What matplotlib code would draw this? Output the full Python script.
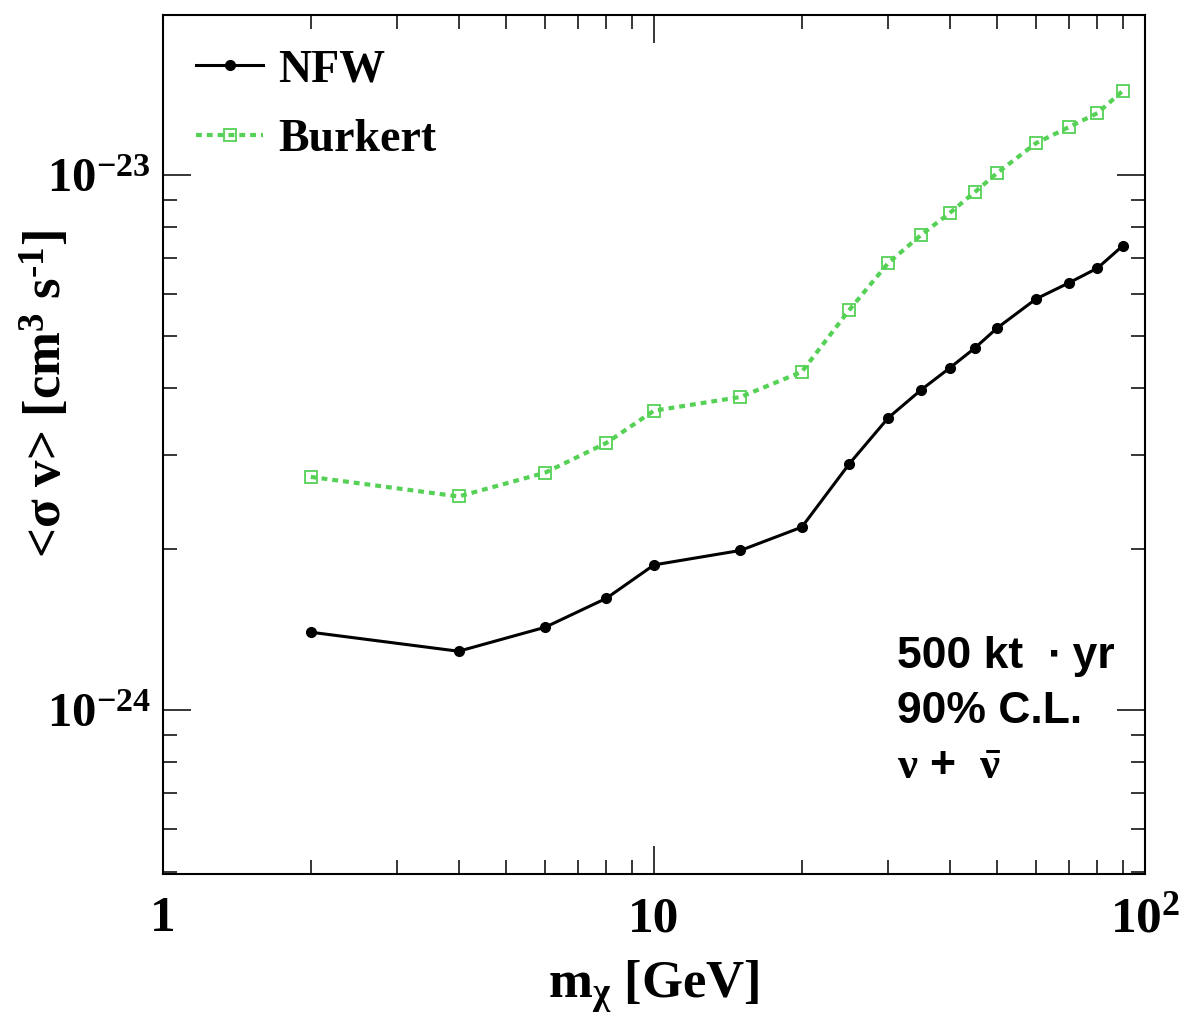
import matplotlib
matplotlib.use("Agg")
import matplotlib.pyplot as plt
from matplotlib.ticker import LogLocator, NullFormatter
import numpy as np

plt.rcParams['mathtext.fontset'] = 'custom'
plt.rcParams['mathtext.rm'] = 'Liberation Serif:bold'
plt.rcParams['mathtext.bf'] = 'Liberation Serif:bold'
plt.rcParams['mathtext.it'] = 'Liberation Serif:bold:italic'
plt.rcParams['font.family'] = ['Liberation Serif', 'DejaVu Serif']
plt.rcParams['font.weight'] = 'bold'

# dark matter mass [GeV]
mass = [2, 4, 6, 8, 10, 15, 20, 25, 30, 35, 40, 45, 50, 60, 70, 80, 90]

# 90% C.L. upper limits on <sigma v> [cm^3 s^-1]
nfw = [1.40e-24, 1.29e-24, 1.43e-24, 1.62e-24, 1.87e-24, 1.99e-24, 2.20e-24,
       2.89e-24, 3.52e-24, 3.97e-24, 4.36e-24, 4.75e-24, 5.18e-24, 5.87e-24,
       6.29e-24, 6.70e-24, 7.37e-24]
burkert = [2.73e-24, 2.51e-24, 2.78e-24, 3.16e-24, 3.63e-24, 3.85e-24, 4.29e-24,
           5.60e-24, 6.85e-24, 7.73e-24, 8.49e-24, 9.29e-24, 1.009e-23, 1.147e-23,
           1.229e-23, 1.305e-23, 1.435e-23]

xticks = [1, 10, 100]
xticklabels = ['1', '10', r'$\mathbf{10^{2}}$']
yticks = [1e-24, 1e-23]
yticklabels = [r'$\mathbf{10^{-24}}$', r'$\mathbf{10^{-23}}$']

fig = plt.figure(figsize=(11.82, 10.36), dpi=100)
ax = fig.add_axes([0.1379, 0.1564, 0.8308, 0.8291])

green = '#55d155'
ax.plot(mass, nfw, color='black', lw=2.2, marker='o', ms=7, label='NFW')
ax.plot(mass, burkert, color=green, lw=3, ls=(0, (1.4, 1.2)), marker='s', ms=8,
        mfc='none', mec=green, mew=1.3, label='Burkert')

ax.set_xscale('log')
ax.set_yscale('log')
ax.set_xlim(1, 100)
ax.set_ylim(4.95e-25, 1.99e-23)

ax.set_xticks(xticks)
ax.set_xticklabels(xticklabels)
ax.set_yticks(yticks)
ax.set_yticklabels(yticklabels)
ax.xaxis.set_minor_locator(LogLocator(base=10, subs=np.arange(2, 10)))
ax.yaxis.set_minor_locator(LogLocator(base=10, subs=np.arange(2, 10)))
ax.xaxis.set_minor_formatter(NullFormatter())
ax.yaxis.set_minor_formatter(NullFormatter())

ax.tick_params(which='both', direction='in', top=True, right=True, width=1.1)
ax.tick_params(which='major', length=20)
ax.tick_params(which='minor', length=10)
ax.tick_params(axis='x', which='major', pad=16, labelsize=37)
ax.tick_params(axis='y', which='major', pad=9, labelsize=35)
for s in ax.spines.values():
    s.set_linewidth(1.5)

ax.set_xlabel(r'm$_{\mathrm{\chi}}$ [GeV]', fontsize=38, fontweight='bold')
ax.set_ylabel(r'<σ v> [cm$^{3}$ s$^{\text{-}1}$]', fontsize=38, fontweight='bold')
ax.xaxis.set_label_coords(0.5, -0.098)
ax.yaxis.set_label_coords(-0.092, 0.559)

ax.legend(loc='upper left', frameon=False, fontsize=33, handlelength=1.45,
          handletextpad=0.33, labelspacing=0.6, borderaxespad=0.0,
          borderpad=0.0, bbox_to_anchor=(0.034, 0.96))

sans = ['Liberation Sans', 'DejaVu Sans']
ax.text(0.7475, 0.2526, '500 kt  \u2219 yr', transform=ax.transAxes, va='center',
        ha='left', fontsize=32, fontweight='bold', family=sans)
ax.text(0.7475, 0.1886, '90% C.L.', transform=ax.transAxes, va='center',
        ha='left', fontsize=32, fontweight='bold', family=sans)
ax.text(0.7475, 0.1234, r'$\mathrm{\nu}$ +  $\bar{\mathrm{\nu}}$', transform=ax.transAxes,
        va='center', ha='left', fontsize=32, fontweight='bold', family=sans)

fig.savefig('out.png', dpi=100)
